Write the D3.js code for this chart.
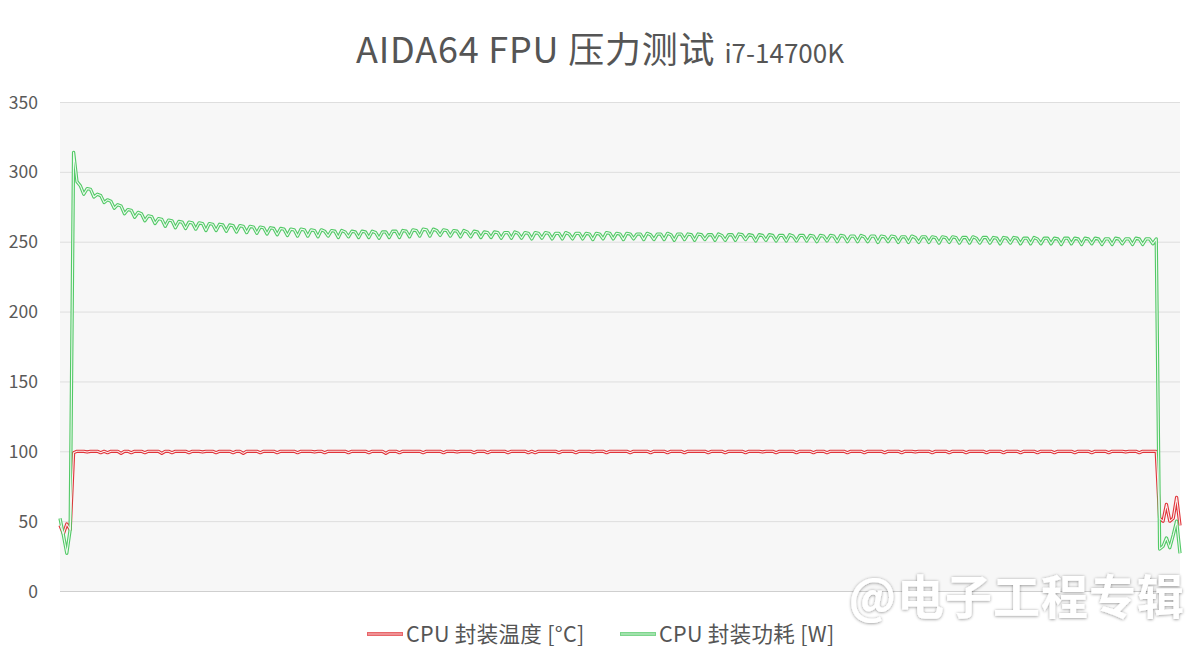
<!DOCTYPE html>
<html><head><meta charset="utf-8">
<script src="https://cdn.jsdelivr.net/npm/d3@7/dist/d3.min.js"></script>
<style>
html,body{margin:0;padding:0;background:#fff;}
text{font-family:"Noto Sans CJK SC","Noto Sans",sans-serif;}
</style></head>
<body><svg id="c" width="1200" height="665"></svg>
<script>
const titleMain = "AIDA64 FPU 压力测试";
const titleSub = "i7-14700K";
const yTicks = [0, 50, 100, 150, 200, 250, 300, 350];
const seriesNames = ["CPU 封装温度 [°C]", "CPU 封装功耗 [W]"];
const watermark = "@电子工程专辑";

const powerW = [
52, 40, 27, 44, 314,
293, 290, 284,
288, 287.5, 282, 284, 283, 278, 280, 279, 274, 276.5, 275.5, 270, 273, 272.5, 267.5,
271, 270, 265, 268.5, 268, 263, 266.5, 266, 261, 265.5, 265, 260, 264.5, 264, 259.5,
264, 263.5, 259, 263.5, 263, 258, 263, 262.5, 258, 262.5, 262, 257.5, 262, 261.5, 257,
261.5, 261, 256.5, 261, 260.5, 256, 260.5, 260, 255.5, 260, 259.5, 255, 259.5, 259, 254.5,
259, 258.5, 254, 259, 258.5, 254, 258.5, 258, 253.5, 258.5, 257.5, 254, 258, 257.5, 253,
258, 257, 253.5, 257.5, 257, 253, 257.5, 257, 253, 257.5, 256.5, 252.5, 257, 257, 253,
257.5, 257.5, 253, 258, 257.5, 253.5, 258.5, 258, 254, 259, 258.5, 254, 259, 258, 254.5,
258.5, 258, 254, 258, 257.5, 253.5, 258, 257, 253.5, 257.5, 257, 253, 257, 256.5, 253,
257, 256.5, 252.5, 256.5, 256.5, 252.5, 257, 256, 252.5, 256.5, 256, 252, 256.5, 256, 252.5,
256.5, 256, 252, 256, 256, 252, 256.5, 255.5, 252, 256, 256, 252, 256, 255.5, 251.5,
256, 255.5, 252, 256.5, 256, 252, 256, 255.5, 251.5, 256, 255.5, 252, 255.5, 255.5, 251.5,
256, 255, 251.5, 255.5, 255.5, 251.5, 256, 255, 251, 255.5, 255.5, 251.5, 255.5, 255, 251,
255.5, 255, 251.5, 255, 255, 251, 255.5, 254.5, 251, 255, 255, 251, 255.5, 255, 251.5,
255, 254.5, 250.5, 255, 254.5, 251, 255, 254.5, 250.5, 254.5, 254.5, 250.5, 255, 254, 250.5,
254.5, 254.5, 250.5, 254.5, 254, 250, 254.5, 254, 250.5, 254.5, 254, 250, 254.5, 254, 250,
254, 254, 250, 254.5, 253.5, 250, 254, 254, 249.5, 254, 253.5, 250, 254, 253.5, 249.5,
253.5, 253.5, 249.5, 254, 253, 249.5, 253.5, 253.5, 249.5, 253.5, 253, 249, 253.5, 253, 249.5,
253.5, 253, 249, 253, 253, 249, 253.5, 252.5, 249, 253, 253, 249, 253, 252.5, 248.5,
253, 252.5, 249, 253, 252.5, 248.5, 252.5, 252.5, 248.5, 253, 252, 248.5, 252.5, 252.5, 248.5,
252.5, 252, 248, 252.5, 252.5, 248.5, 252.5, 252, 248, 252.5, 252, 248.5, 252.5, 252, 248,
252, 252, 248, 252.5, 252, 248.5, 252, 252, 248, 252.5, 252, 248, 252, 252, 248.5,
252,
30, 32, 38, 31, 40, 50, 27
];

const tempC = [
47, 41, 48, 44,
99, 100, 100, 100, 99.5, 100, 100, 100, 99, 100, 99, 100, 100, 100, 98.5, 100, 100, 99, 100, 100,
100, 99, 100, 100, 100, 100, 98.5, 100, 100, 99, 100, 100, 100, 100, 99, 100, 100, 100, 99.5, 100,
100, 100, 99, 100, 100, 100, 100, 99, 100, 100, 98.5, 100, 100, 100, 100, 99, 100, 100, 100, 100,
99, 100, 100, 100, 100, 100, 99, 100, 100, 100, 100, 99.5, 100, 100, 99, 100, 100, 100, 100, 100,
100, 99, 100, 100, 100, 100, 100, 99, 100, 100, 100, 100, 98.5, 100, 100, 100, 99, 100, 100, 100,
100, 100, 100, 99, 100, 100, 100, 100, 100, 99, 100, 100, 100, 99.5, 100, 100, 100, 100, 99, 100,
100, 100, 99, 100, 100, 100, 100, 100, 99, 100, 100, 100, 100, 100, 99, 100, 99, 100, 100, 100,
100, 100, 100, 99, 100, 100, 100, 100, 99, 100, 100, 100, 100, 99.5, 100, 100, 100, 99, 100, 100,
100, 100, 100, 100, 99, 100, 100, 100, 100, 100, 99, 100, 100, 100, 100, 99, 100, 100, 100, 100,
99, 100, 100, 100, 100, 100, 100, 99, 100, 100, 100, 100, 99, 100, 100, 100, 100, 100, 99, 100,
100, 100, 100, 99.5, 100, 100, 100, 99, 100, 100, 100, 100, 100, 99, 100, 100, 100, 100, 99, 100,
100, 100, 99, 100, 100, 100, 100, 100, 99, 100, 100, 100, 100, 99, 100, 100, 100, 100, 100, 99,
100, 100, 100, 100, 99, 100, 100, 100, 99.5, 100, 100, 100, 100, 99, 100, 100, 100, 100, 99, 100,
100, 100, 100, 99, 100, 100, 100, 100, 100, 99, 100, 100, 100, 100, 99, 100, 100, 100, 100, 99,
100, 100, 100, 100, 99, 100, 100, 100, 100, 99, 100, 100, 100, 100, 100, 99, 100, 100, 100, 100,
99, 100, 100, 100, 100, 99, 100, 100, 100, 100, 99.5, 100, 100, 100, 99, 100, 100, 100, 100, 100,
52, 50, 62, 50, 52, 67, 47
];

const colors = ["#e0343a", "#52c966"];
const inner = ["#fdeeee", "#effaf1"];

const svg = d3.select("#c");
const L = 60, R = 1180, T = 102, B = 591;
const n = Math.max(powerW.length, tempC.length);
const x = d3.scaleLinear().domain([0, n - 1]).range([L, R]);
const y = d3.scaleLinear().domain([0, 350]).range([B, T]);

// plot background
svg.append("rect").attr("x", L).attr("y", T).attr("width", R - L).attr("height", B - T).attr("fill", "#f7f7f7");

// gridlines
const grid = svg.append("g").attr("transform", `translate(${L},0)`)
  .call(d3.axisLeft(y).tickValues(yTicks).tickSize(-(R - L)).tickFormat(""));
grid.select(".domain").remove();
grid.selectAll(".tick line").attr("stroke", d => d === 0 ? "#cfcfcf" : "#dedede").attr("stroke-width", 1);

// y labels
const ya = svg.append("g").attr("transform", `translate(38,0)`)
  .call(d3.axisLeft(y).tickValues(yTicks).tickSize(0).tickPadding(0));
ya.select(".domain").remove();
ya.selectAll("text").attr("font-size", 17.5).attr("fill", "#595959").attr("dy", "0.35em")
  .style("font-family", '"Noto Sans CJK SC","Noto Sans",sans-serif');

// lines (hollow style)
const line = d3.line().x((d, i) => x(i)).y(d => y(d)).curve(d3.curveLinear);
const series = [tempC, powerW];
series.forEach((s, k) => {
  svg.append("path").datum(s).attr("d", line).attr("fill", "none")
    .attr("stroke", colors[k]).attr("stroke-width", 3.3).attr("stroke-linejoin", "round");
});
series.forEach((s, k) => {
  svg.append("path").datum(s).attr("d", line).attr("fill", "none")
    .attr("stroke", inner[k]).attr("stroke-width", 1.1).attr("stroke-linejoin", "round");
});

// title
const t = svg.append("text").attr("x", 600).attr("y", 63).attr("text-anchor", "middle").attr("fill", "#555");
t.append("tspan").attr("font-size", 36).attr("letter-spacing", 0.8).text(titleMain);
t.append("tspan").attr("font-size", 26).attr("dx", 9).text(titleSub);

// legend
const legX = [367, 620];
seriesNames.forEach((name, k) => {
  const g = svg.append("g").attr("transform", `translate(${legX[k]},634)`);
  g.append("line").attr("x1", 0).attr("x2", 36).attr("y1", 0).attr("y2", 0)
    .attr("stroke", colors[k]).attr("stroke-width", 3.3);
  g.append("line").attr("x1", 0.5).attr("x2", 35.5).attr("y1", 0).attr("y2", 0)
    .attr("stroke", inner[k]).attr("stroke-width", 1.1);
  g.append("text").attr("x", 39).attr("y", 0).attr("dy", "0.35em").attr("font-size", 21.5)
    .attr("letter-spacing", 0.3).attr("fill", "#555").text(name);
});

// watermark
const defs = svg.append("defs");
const f = defs.append("filter").attr("id", "sh").attr("x", "-10%").attr("y", "-30%").attr("width", "120%").attr("height", "160%");
f.append("feDropShadow").attr("dx", 0).attr("dy", 0.5).attr("stdDeviation", 1.4).attr("flood-color", "#000").attr("flood-opacity", 0.45);
svg.append("text").attr("x", 1185).attr("y", 614).attr("text-anchor", "end")
  .attr("font-size", 47).attr("font-weight", 700).attr("letter-spacing", 1)
  .attr("fill", "#ffffff").attr("filter", "url(#sh)").text(watermark);
</script></body></html>
